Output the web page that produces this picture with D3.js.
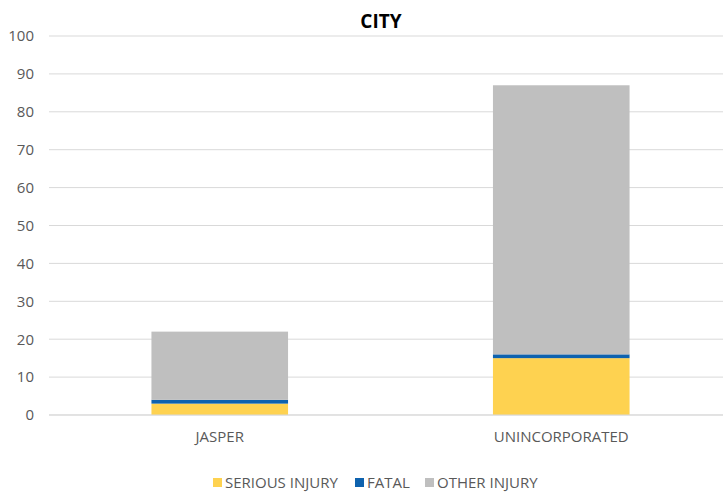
<!DOCTYPE html>
<html>
<head>
<meta charset="utf-8">
<script src="https://cdn.jsdelivr.net/npm/d3@7"></script>
<style>
  body { margin: 0; background: #fff; }
  text { font-family: "Open Sans", "Liberation Sans", sans-serif; }
</style>
</head>
<body>
<div id="chart-area"></div>
<script>
// chart data
const cities = ["JASPER", "UNINCORPORATED"];
const seriesNames = ["SERIOUS INJURY", "FATAL", "OTHER INJURY"];
const seriousInjury = [3, 15];
const fatal = [1, 1];
const otherInjury = [18, 71];
const yTicks = [0, 10, 20, 30, 40, 50, 60, 70, 80, 90, 100];
const colorList = ["#FED250", "#0E62AE", "#BFBFBF"];

const width = 723, height = 493;

const svg = d3.select("#chart-area").append("svg")
  .attr("width", width)
  .attr("height", height);

const x = d3.scaleBand().domain(cities).range([49, 732])
  .paddingInner(0.6).paddingOuter(0.3);
const y = d3.scaleLinear().domain([0, 100]).range([415, 36]);

// gridlines
svg.append("g").selectAll("line")
  .data(yTicks).enter().append("line")
  .attr("x1", 49).attr("x2", 732)
  .attr("y1", d => y(d)).attr("y2", d => y(d))
  .attr("stroke", "#D9D9D9").attr("stroke-width", 1);

// y axis labels
const axisy = d3.axisLeft(y).tickValues(yTicks).tickSize(0).tickPadding(0);
const gy = svg.append("g").attr("transform", "translate(34,0)").call(axisy);
gy.select(".domain").remove();
gy.selectAll("text").attr("font-size", 15).attr("fill", "#595959")
  .attr("font-family", "'Open Sans', sans-serif");

// stacked bars
const rows = cities.map((c, i) => ({
  city: c,
  "SERIOUS INJURY": seriousInjury[i],
  "FATAL": fatal[i],
  "OTHER INJURY": otherInjury[i]
}));
const stacked = d3.stack().keys(seriesNames)(rows);

svg.append("g").selectAll("g")
  .data(stacked).enter().append("g")
  .attr("fill", (d, i) => colorList[i])
  .selectAll("rect")
  .data(d => d).enter().append("rect")
  .attr("x", d => x(d.data.city))
  .attr("y", d => y(d[1]))
  .attr("width", x.bandwidth())
  .attr("height", d => y(d[0]) - y(d[1]));

// x axis
svg.append("line")
  .attr("x1", 49).attr("x2", 732)
  .attr("y1", y(0)).attr("y2", y(0))
  .attr("stroke", "#D9D9D9");

const axisx = d3.axisBottom(x).tickSize(0).tickPadding(0);
const gx = svg.append("g").attr("transform", "translate(0,431)").call(axisx);
gx.select(".domain").remove();
gx.selectAll("text").attr("font-size", 15).attr("fill", "#595959")
  .attr("font-family", "'Open Sans', sans-serif");

// title
svg.append("text")
  .attr("x", 381).attr("y", 28)
  .attr("text-anchor", "middle")
  .attr("font-size", 19).attr("font-weight", "bold").attr("fill", "#000")
  .text("CITY");

// legend
const legendX = [213, 355, 425];
const legend = svg.append("g").selectAll("g")
  .data(seriesNames).enter().append("g")
  .attr("transform", (d, i) => "translate(" + legendX[i] + ",478)");
legend.append("rect")
  .attr("width", 9).attr("height", 9)
  .attr("fill", (d, i) => colorList[i]);
legend.append("text")
  .attr("x", 12).attr("y", 9.5)
  .attr("font-size", 15).attr("fill", "#595959")
  .text(d => d);
</script>
</body>
</html>
